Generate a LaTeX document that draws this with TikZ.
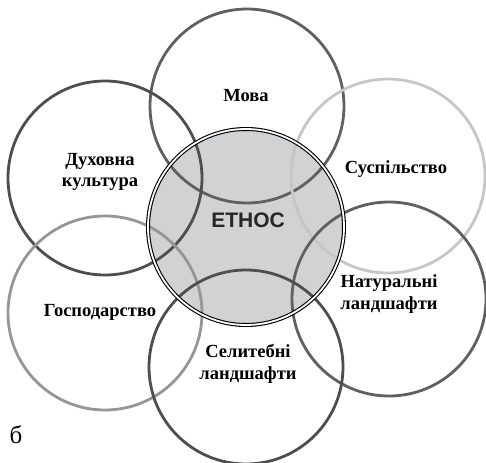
\documentclass[tikz,border=0pt]{standalone}
\usepackage{fontspec}
\setmainfont{Liberation Serif}
\newfontfamily\ethosfont{Liberation Sans}

\definecolor{ringdark}{HTML}{606060}
\definecolor{ringdeep}{HTML}{4E4E4E}
\definecolor{ringmid}{HTML}{969696}
\definecolor{ringlight}{HTML}{C6C6C6}
\definecolor{corefill}{HTML}{D1D2D4}

\pgfdeclarelayer{background}
\pgfsetlayers{background,main}

\begin{document}
\begin{tikzpicture}[x=1pt, y=-1pt,
  ring/.style={circle, line width=2.8pt, minimum size=194pt, inner sep=0pt},
  word/.style={font=\fontsize{18.5}{21.5}\selectfont\bfseries, align=center}]

\useasboundingbox (0,0) rectangle (486,462);

% outer circles
\node (mova) [ring, draw=ringdark] at (247,106) {};
\node (dukh) [ring, draw=ringdeep] at (105,178) {};
\node (susp) [ring, draw=ringlight] at (388,176) {};
\node (natur) [ring, draw=ringdark] at (389,299) {};
\node (gosp) [ring, draw=ringmid] at (105,313) {};
\node (selyt) [ring, draw=ringdeep] at (246,367) {};

% centre
\node (ethos) [circle, draw, double, line width=1.1pt, double distance=1.8pt, minimum size=196pt, inner sep=0pt] at (246,227) {};
\begin{pgfonlayer}{background}
\fill[corefill] (ethos.center) circle (98pt);
\end{pgfonlayer}

% labels
\node (movatext) [word] at (246,96) {Мова};
\node (dukhtext) [word] at (100,172) {Духовна\\культура};
\node (susptext) [word] at (396,169) {Суспільство};
\node (naturtext) [word] at (389,294) {Натуральні\\ландшафти};
\node (gosptext) [word] at (100,312) {Господарство};
\node (selyttext) [word] at (248,364) {Селитебні\\ландшафти};
\node (ethostext) [font=\ethosfont\bfseries\fontsize{21}{24}\selectfont, text=black!85] at (248,220) {ЕТНОС};

\node (mark) [font=\fontsize{25}{28}\selectfont] at (16,435) {б};

\end{tikzpicture}
\end{document}
